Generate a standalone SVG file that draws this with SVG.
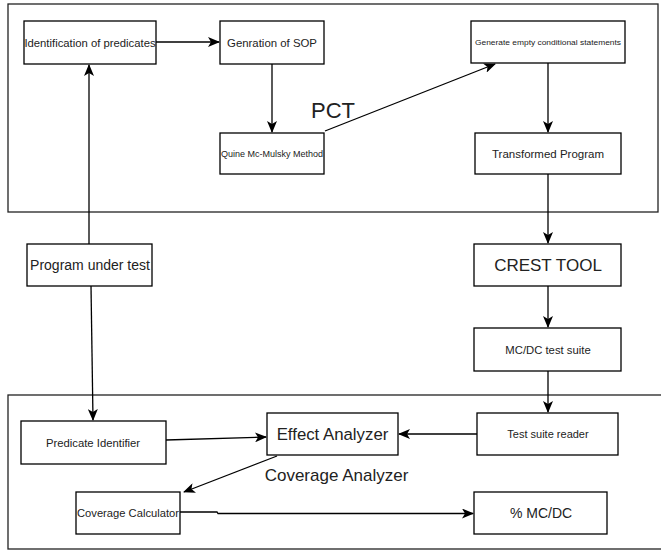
<svg xmlns="http://www.w3.org/2000/svg" width="661" height="551" viewBox="0 0 661 551">
<style>
.box{fill:#fff;stroke:#000;stroke-width:1.3}
.frame{fill:none;stroke:#222;stroke-width:1.3}
.t{font-family:"Liberation Sans",Arial,sans-serif;fill:#222;text-anchor:middle;dominant-baseline:central}
.c{fill:none;stroke:#000;stroke-width:1.3;marker-end:url(#arr)}
.l{fill:none;stroke:#000;stroke-width:1.3}
</style>
<defs>
<marker id="arr" viewBox="0 0 12 10" refX="11" refY="5" markerWidth="12" markerHeight="10" markerUnits="userSpaceOnUse" orient="auto">
<path d="M0,0 L12,5 L0,10 L3,5 Z" fill="#000"/>
</marker>
</defs>
<rect width="661" height="551" fill="#fff"/>
<g id="frames">
<rect class="frame" x="8" y="4" width="650" height="208"/>
<rect class="frame" x="8" y="395" width="660" height="154"/>
<text class="t" x="333" y="110" font-size="22">PCT</text>
<text class="t" x="336.5" y="475" font-size="17">Coverage Analyzer</text>
</g>
<g id="connectors">
<path class="c" d="M156,42 H219"/>
<path class="c" d="M272,64 V132"/>
<path class="c" d="M325,131 L495,64"/>
<path class="c" d="M548,63 V132"/>
<path class="l" d="M548,174 V212"/>
<path class="c" d="M548,212 V243"/>
<path class="c" d="M548,286 V327"/>
<path class="c" d="M89,244 V65"/>
<path class="c" d="M91,286 L93,420"/>
<path class="c" d="M548,371 V412"/>
<path class="c" d="M166,440 L266,437"/>
<path class="c" d="M477,434 H399"/>
<path class="c" d="M277,456 L184,492"/>
<path class="c" d="M180,512 H217 L218,513.5 H473"/>
</g>
<g id="n1"><rect class="box" x="24" y="21" width="132" height="43"/><text class="t" x="90" y="42.5" font-size="11.3">Identification of predicates</text></g>
<g id="n2"><rect class="box" x="220" y="21" width="104" height="43"/><text class="t" x="272" y="42.5" font-size="11.4">Genration of SOP</text></g>
<g id="n3"><rect class="box" x="220" y="133" width="104" height="41"/><text class="t" x="272" y="154" font-size="9">Quine Mc-Mulsky Method</text></g>
<g id="n4"><rect class="box" x="471" y="21" width="154" height="42"/><text class="t" x="548" y="42" font-size="8" textLength="146" lengthAdjust="spacingAndGlyphs">Generate empty conditional statements</text></g>
<g id="n5"><rect class="box" x="475" y="133" width="146" height="41"/><text class="t" x="548" y="154" font-size="11.5">Transformed Program</text></g>
<g id="n6"><rect class="box" x="474" y="244" width="147" height="42"/><text class="t" x="548" y="265" font-size="17">CREST TOOL</text></g>
<g id="n7"><rect class="box" x="474" y="328" width="147" height="43"/><text class="t" x="548" y="349.5" font-size="11.3">MC/DC test suite</text></g>
<g id="n8"><rect class="box" x="27" y="244" width="125" height="42"/><text class="t" x="90" y="265" font-size="14">Program under test</text></g>
<g id="n9"><rect class="box" x="21" y="421" width="145" height="43"/><text class="t" x="93" y="442.5" font-size="11.3">Predicate Identifier</text></g>
<g id="n10"><rect class="box" x="267" y="413" width="131" height="42"/><text class="t" x="332.5" y="434" font-size="16.8">Effect Analyzer</text></g>
<g id="n11"><rect class="box" x="477" y="413" width="141" height="42"/><text class="t" x="548" y="434" font-size="11">Test suite reader</text></g>
<g id="n12"><rect class="box" x="76" y="492" width="104" height="42"/><text class="t" x="128" y="513" font-size="11.2">Coverage Calculator</text></g>
<g id="n13"><rect class="box" x="474" y="492" width="133" height="42"/><text class="t" x="541" y="513" font-size="14">% MC/DC</text></g>
</svg>
